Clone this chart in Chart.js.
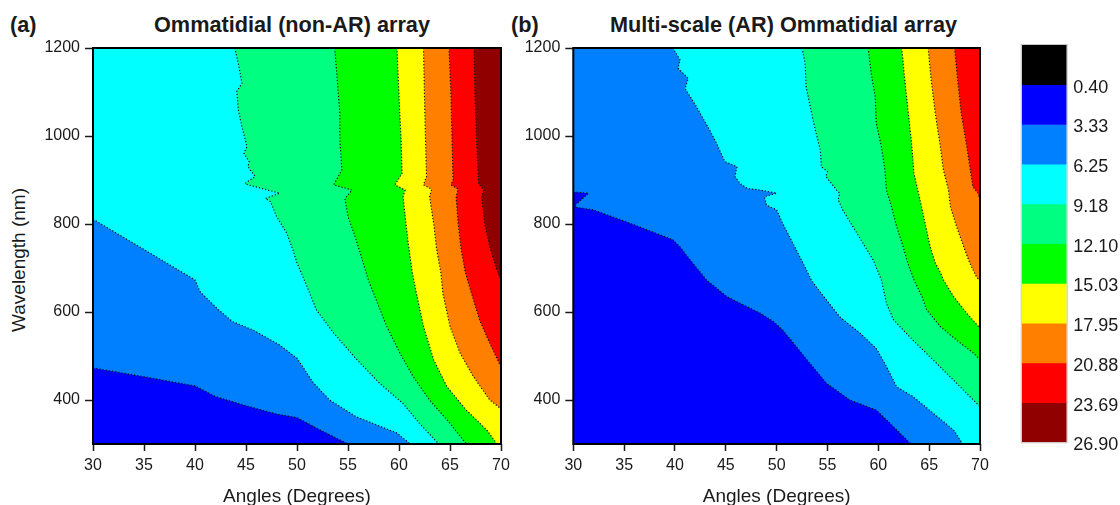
<!DOCTYPE html>
<html>
<head>
<meta charset="utf-8">
<script src="https://cdn.jsdelivr.net/npm/chart.js@4.4.1/dist/chart.umd.min.js"></script>
<style>
  html, body { margin: 0; padding: 0; background: #fff; overflow: hidden; }
  body { width: 1120px; height: 505px; position: relative; font-family: "Liberation Sans", Arial, sans-serif; color: #1a1a1a; }
  canvas { position: absolute; top: 0; }
  .rotulo { position: absolute; font-weight: bold; font-size: 21.7px; line-height: 1; white-space: nowrap; }
  .titulo-y { position: absolute; font-size: 19px; line-height: 1; white-space: nowrap; transform: translate(-50%, -50%) rotate(-90deg); }
</style>
</head>
<body>
<div class="rotulo" style="left:10px; top:13.6px">(a)</div>
<div class="rotulo" style="left:154px; top:13.6px">Ommatidial (non-AR) array</div>
<div class="rotulo" style="left:511px; top:13.6px">(b)</div>
<div class="rotulo" style="left:610px; top:13.6px">Multi-scale (AR) Ommatidial array</div>
<div class="titulo-y" style="left:17.5px; top:260px">Wavelength (nm)</div>

<canvas id="graficoA" width="520" height="512" style="left:0"></canvas>
<canvas id="graficoB" width="510" height="512" style="left:500px"></canvas>
<canvas id="barraCores" width="120" height="505" style="left:1000px"></canvas>

<script>
// ============================================================================
// MAPAS DE CONTORNO: ÂNGULO x COMPRIMENTO DE ONDA
// ============================================================================

// Eixos
const angulosTicks = [30, 35, 40, 45, 50, 55, 60, 65, 70];
const ondaTicks = [400, 600, 800, 1000, 1200];

// Níveis da escala de cores (de cima para baixo)
const niveisLabels = ['0.40', '3.33', '6.25', '9.18', '12.10', '15.03', '17.95', '20.88', '23.69', '26.90'];
const coresFaixas = ['#000000', '#0000FF', '#0080FF', '#00FFFF', '#00FF80', '#00FF00', '#FFFF00', '#FF8000', '#FF0000', '#900000'];

// Linhas de contorno do painel (a): [ângulo, comprimento de onda]
const a1 = [[30,473],[35,453],[40,432],[42,408],[45,387],[48,368],[50,360],[52,335],[55,300]];
const a2 = [[30,811],[35,742],[40,673],[40.5,646],[42.3,605],[43.7,578],[45.7,559],[48.3,525],[50,495],[51.6,439],[53.2,400],[55.8,362],[59.8,325],[61.1,300]];
const a3 = [[43.9,1200],[44.25,1165],[44.6,1120],[44.1,1101],[44.25,1059],[44.6,1021],[45.1,976],[44.8,961],[45.3,942],[45.2,930],[45.9,908],[44.9,892],[45.2,889],[48.3,870],[46.9,858],[47.4,851],[48,817],[49,779],[49.6,741],[50,712],[51,657],[51.9,605],[53.6,552],[55.9,491],[58.1,438],[60.4,392],[62,347],[63.9,300]];
const a4 = [[53.7,1200],[53.9,1142],[54.2,1052],[54.2,991],[54.4,923],[53.6,889],[55.4,877],[54.7,858],[55,817],[55.7,771],[56.3,726],[57,673],[57.5,643],[58.8,567],[60.1,506],[61.4,453],[63,400],[65,347],[66.6,300]];
const a5 = [[59.8,1200],[60,1089],[60.2,991],[60.3,915],[59.6,889],[60.6,877],[60.4,862],[60.6,817],[60.9,756],[61.3,690],[61.7,643],[62.4,567],[63.4,491],[64.7,430],[66.6,377],[68.6,332],[69.6,300]];
const a6 = [[62.4,1200],[62.5,1089],[62.6,991],[62.7,908],[62.4,889],[63.2,879],[63,862],[63.4,801],[63.7,741],[64.1,690],[64.3,643],[65,567],[66,506],[67.3,453],[68.9,400],[70,380]];
const a7 = [[64.9,1200],[65.1,1089],[65.2,991],[65.3,900],[65.1,889],[65.8,879],[65.6,862],[65.8,801],[66.1,741],[66.5,690],[67.1,643],[67.9,582],[68.9,529],[70,475]];
const a8 = [[67.35,1200],[67.45,1089],[67.6,991],[67.8,892],[68.3,877],[68.1,862],[68.4,801],[68.9,748],[69.6,695],[70,672]];

// Linhas de contorno do painel (b)
const b1 = [[30,873],[31.5,870],[30.2,843],[30.3,838],[32,832],[35.2,805],[39.8,764],[40.5,748],[41.5,718],[43.1,673],[45.1,635],[46.4,620],[48.4,597],[49.7,578],[50.6,559],[53,491],[54.9,438],[57.2,400],[59.8,377],[60.8,355],[63.2,300]];
const b2 = [[39.8,1200],[40.5,1173],[40.3,1154],[41.3,1131],[41,1108],[42.1,1067],[43.4,1014],[44.1,983],[44.9,942],[46.1,930],[45.9,908],[46.4,892],[47.1,881],[48.4,877],[50,870],[48.8,862],[49,843],[50,832],[50.6,801],[51.6,756],[52.6,711],[53.4,673],[53.9,657],[56.2,589],[58.2,552],[59.8,517],[60.8,476],[61.8,430],[63.4,408],[65.4,370],[67.4,332],[68.3,300]];
const b3 = [[52.5,1200],[52.8,1165],[52.9,1112],[53.3,1067],[53.8,1014],[54.3,968],[54.4,930],[55,919],[54.85,908],[55.9,877],[56.2,870],[56.05,855],[56.5,832],[57.5,794],[58.5,756],[59.5,718],[60.3,673],[60.8,620],[61.5,582],[63.4,536],[65.4,491],[67.4,445],[69,408],[70,385]];
const b4 = [[59,1200],[59.3,1142],[59.7,1089],[59.8,1029],[60.3,976],[60.65,923],[60.8,877],[61.3,839],[61.8,794],[62.45,748],[62.9,711],[63.5,673],[64.3,635],[64.75,605],[66.1,567],[67.7,536],[69.4,506],[70,491]];
const b5 = [[62.3,1200],[62.6,1127],[62.95,1052],[63.3,976],[63.5,915],[63.8,885],[64.1,855],[64.6,801],[65.1,748],[65.6,711],[66.1,690],[66.4,673],[67.4,635],[68.7,597],[70,563]];
const b6 = [[64.9,1200],[65.2,1127],[65.6,1052],[66.1,976],[66.4,923],[66.9,877],[67.1,839],[67.7,794],[68.4,748],[69,711],[69.65,680],[70,670]];
const b7 = [[67.5,1200],[67.8,1127],[68.15,1052],[68.7,976],[69,930],[69.3,885],[69.8,870],[70,855]];

const contornosA = [a1, a2, a3, a4, a5, a6, a7, a8];
const contornosB = [b1, b2, b3, b4, b5, b6, b7];

const X_MIN = 30, X_MAX = 70, Y_MIN = 300, Y_MAX = 1200;
const corTexto = '#1a1a1a';
Chart.defaults.font.family = '"Liberation Sans", Arial, sans-serif';
Chart.defaults.color = corTexto;

// Borda do quadro em que cada ponto de contorno encosta
function bordaDe(p) {
    if (p.y >= Y_MAX - 1e-6) return 'top';
    if (p.x <= X_MIN + 1e-6) return 'left';
    if (p.y <= Y_MIN + 1e-6) return 'bottom';
    return 'right';
}

// Fecha a região "acima do nível" pelos cantos (sentido anti-horário)
const ordemBordas = ['bottom', 'right', 'top', 'left'];
const cantoApos = {
    bottom: {x: X_MAX, y: Y_MIN},
    right: {x: X_MAX, y: Y_MAX},
    top: {x: X_MIN, y: Y_MAX},
    left: {x: X_MIN, y: Y_MIN}
};
function cantosFechamento(inicio, fim) {
    const cantos = [];
    let k = ordemBordas.indexOf(bordaDe(fim));
    const parada = ordemBordas.indexOf(bordaDe(inicio));
    while (k !== parada) {
        cantos.push(cantoApos[ordemBordas[k]]);
        k = (k + 1) % 4;
    }
    return cantos;
}

// Pinta as faixas de cor por baixo das linhas pontilhadas
const preenchimentoFaixas = {
    id: 'preenchimentoFaixas',
    beforeDatasetsDraw(chart, args, opts) {
        const {ctx, chartArea: area, scales: {x, y}} = chart;
        ctx.save();
        ctx.beginPath();
        ctx.rect(area.left, area.top, area.width, area.height);
        ctx.clip();
        ctx.fillStyle = opts.corBase;
        ctx.fillRect(area.left, area.top, area.width, area.height);
        chart.data.datasets.forEach(ds => {
            const pts = ds.data;
            const poligono = pts.concat(cantosFechamento(pts[0], pts[pts.length - 1]));
            ctx.beginPath();
            poligono.forEach((p, i) => {
                const px = x.getPixelForValue(p.x), py = y.getPixelForValue(p.y);
                if (i === 0) ctx.moveTo(px, py); else ctx.lineTo(px, py);
            });
            ctx.closePath();
            ctx.fillStyle = ds.corFaixa;
            ctx.fill();
        });
        ctx.restore();
    },
    afterDatasetsDraw(chart) {
        // moldura preta em volta da área do gráfico
        const {ctx, chartArea: area} = chart;
        ctx.save();
        ctx.strokeStyle = '#000';
        ctx.lineWidth = 2;
        ctx.strokeRect(area.left, area.top, area.width, area.height);
        ctx.restore();
    }
};

function criarPainel(idCanvas, contornos, larguraEixoY, paddingDireita) {
    const datasets = contornos.map((linha, i) => ({
        data: linha.map(p => ({x: p[0], y: p[1]})),
        corFaixa: coresFaixas[i + 2],
        showLine: true,
        borderColor: '#111',
        borderWidth: 1.2,
        borderDash: [1.2, 2],
        pointRadius: 0,
        fill: false,
        tension: 0
    }));

    return new Chart(document.getElementById(idCanvas), {
        type: 'scatter',
        data: { datasets },
        options: {
            responsive: false,
            animation: false,
            layout: { padding: { top: 48, right: paddingDireita, left: 0, bottom: 0 } },
            plugins: {
                legend: { display: false },
                tooltip: { enabled: false },
                preenchimentoFaixas: { corBase: coresFaixas[1] }
            },
            scales: {
                x: {
                    type: 'linear',
                    min: X_MIN, max: X_MAX,
                    afterBuildTicks: s => { s.ticks = angulosTicks.map(v => ({value: v})); },
                    afterFit: s => { s.height = 68; },
                    ticks: { font: { size: 16 }, padding: 5, color: corTexto, callback: v => String(v) },
                    grid: { drawOnChartArea: false, tickLength: 7, tickWidth: 1.5, tickColor: corTexto },
                    border: { display: false },
                    title: {
                        display: true,
                        text: 'Angles (Degrees)',
                        font: { size: 19 },
                        color: corTexto,
                        padding: { top: 0, bottom: 3.6 }
                    }
                },
                y: {
                    type: 'linear',
                    min: Y_MIN, max: Y_MAX,
                    afterBuildTicks: s => { s.ticks = ondaTicks.map(v => ({value: v})); },
                    afterFit: s => { s.width = larguraEixoY; },
                    ticks: { font: { size: 16 }, padding: 5, color: corTexto, callback: v => String(v) },
                    grid: { drawOnChartArea: false, tickLength: 8, tickWidth: 1.5, tickColor: corTexto },
                    border: { display: false }
                }
            }
        },
        plugins: [preenchimentoFaixas]
    });
}

criarPainel('graficoA', contornosA, 93, 19);
criarPainel('graficoB', contornosB, 73.3, 30);

// Barra de cores com os níveis nas divisas
const contornoBarra = {
    id: 'contornoBarra',
    afterDatasetsDraw(chart) {
        const {ctx, chartArea: area} = chart;
        ctx.save();
        ctx.strokeStyle = '#c8c8c8';
        ctx.lineWidth = 1;
        ctx.strokeRect(area.left - 0.5, area.top - 0.5, area.width + 1, area.height + 1);
        ctx.restore();
    }
};

new Chart(document.getElementById('barraCores'), {
    type: 'bar',
    data: {
        labels: [''],
        datasets: coresFaixas.map(cor => ({
            data: [1],
            backgroundColor: cor,
            borderWidth: 0,
            barPercentage: 1,
            categoryPercentage: 1
        }))
    },
    options: {
        responsive: false,
        animation: false,
        layout: { padding: { top: 45, left: 21.7, bottom: 62.7, right: 0 } },
        plugins: { legend: { display: false }, tooltip: { enabled: false } },
        scales: {
            x: { display: false, stacked: true },
            y: {
                stacked: true,
                reverse: true,
                position: 'right',
                min: 0, max: niveisLabels.length,
                afterBuildTicks: s => { s.ticks = coresFaixas.map((c, i) => ({value: i + 1})); },
                afterFit: s => { s.width = 53.3; },
                grid: { display: false, drawTicks: false },
                border: { display: false },
                ticks: {
                    callback: v => niveisLabels[v - 1],
                    font: { size: 18 },
                    padding: 6.6,
                    labelOffset: 3,
                    color: corTexto
                }
            }
        }
    },
    plugins: [contornoBarra]
});
</script>
</body>
</html>
